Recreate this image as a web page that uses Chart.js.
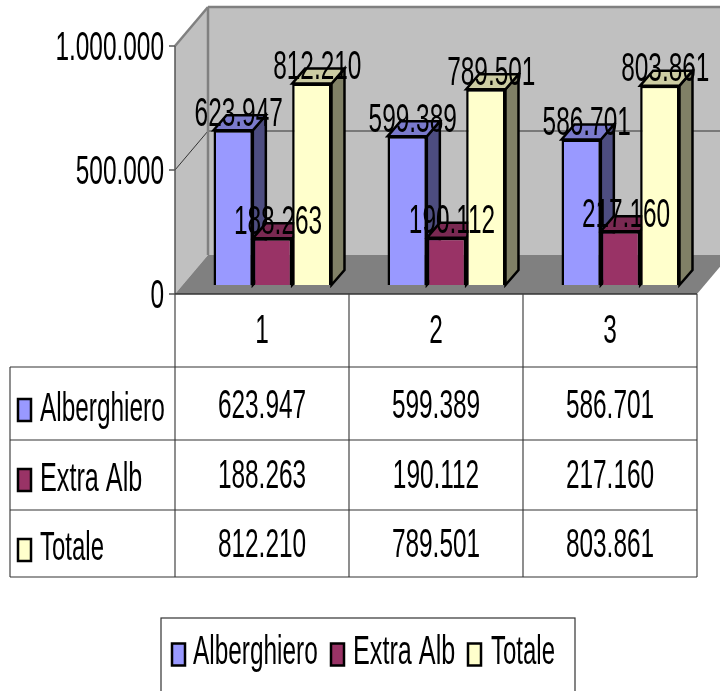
<!DOCTYPE html>
<html>
<head>
<meta charset="utf-8">
<title>Alberghiero / Extra Alb / Totale</title>
<script src="https://cdn.jsdelivr.net/npm/chart.js@4"></script>
<style>
  html, body { margin: 0; padding: 0; background: #fff; overflow: hidden; }
  canvas { display: block; }
</style>
</head>
<body>
<canvas id="grafico" width="720" height="691"></canvas>
<script>
// dati
const categorie = ['1', '2', '3'];
const alberghiero = [623947, 599389, 586701];
const extraAlb = [188263, 190112, 217160];
const totale = [812210, 789501, 803861];
const tickValori = [0, 500000, 1000000];

const nomi = ['Alberghiero', 'Extra Alb', 'Totale'];
const colFronte = ['#9999FF', '#993366', '#FFFFCC'];
const colLato = ['#4D4D80', '#4D1A33', '#808066'];
const colSopra = ['#7A7ACC', '#7A2952', '#CCCCA3'];
const largoNomi = [0.61, 0.63, 0.6];

// profondita' del finto 3D
const PARETE_DX = 33, PARETE_DY = -39;
const BARRA_DX = 13, BARRA_DY = -15;
const SPOST_X = 10.5, SPOST_Y = -9;

function fmt(n) {
    return String(n).replace(/\B(?=(\d{3})+$)/g, '.');
}

// testo stretto come nell'originale, y = centro delle cifre
function testo(ctx, str, x, y, align, largo) {
    ctx.save();
    ctx.translate(x, y + 14);
    ctx.scale(largo || 0.61, 1);
    ctx.font = '40px "Liberation Sans"';
    ctx.fillStyle = '#000';
    ctx.textAlign = align || 'center';
    ctx.textBaseline = 'alphabetic';
    ctx.fillText(str, 0, 0);
    ctx.restore();
}

function poligono(ctx, punti, fill, stroke, lw) {
    ctx.beginPath();
    punti.forEach((p, i) => i ? ctx.lineTo(p[0], p[1]) : ctx.moveTo(p[0], p[1]));
    ctx.closePath();
    if (fill) { ctx.fillStyle = fill; ctx.fill(); }
    if (stroke) { ctx.strokeStyle = stroke; ctx.lineWidth = lw; ctx.stroke(); }
}

function linea(ctx, x1, y1, x2, y2, col, lw) {
    ctx.beginPath();
    ctx.moveTo(x1, y1);
    ctx.lineTo(x2, y2);
    ctx.strokeStyle = col;
    ctx.lineWidth = lw;
    ctx.stroke();
}

function chiave(ctx, x, y, i) {
    ctx.fillStyle = colFronte[i];
    ctx.strokeStyle = '#000';
    ctx.lineWidth = 2.5;
    ctx.fillRect(x, y, 13, 22);
    ctx.strokeRect(x, y, 13, 22);
}

const scena3d = {
    id: 'scena3d',
    // pareti, pavimento, griglia, assi e facce laterali delle barre
    beforeDatasetsDraw(chart) {
        const ctx = chart.ctx, a = chart.chartArea, ys = chart.scales.y;
        const dx = PARETE_DX, dy = PARETE_DY;
        poligono(ctx, [[a.left, a.top], [a.left + dx, a.top + dy], [a.left + dx, a.bottom + dy], [a.left, a.bottom]], '#C0C0C0');
        poligono(ctx, [[a.left + dx, a.top + dy], [a.right + dx, a.top + dy], [a.right + dx, a.bottom + dy], [a.left + dx, a.bottom + dy]], '#C0C0C0');
        poligono(ctx, [[a.left, a.bottom], [a.right, a.bottom], [a.right + dx, a.bottom + dy], [a.left + dx, a.bottom + dy]], '#808080');

        // griglia
        tickValori.forEach(v => {
            if (v === 0) return;
            const py = ys.getPixelForValue(v);
            const col = v === ys.max ? '#808080' : '#333';
            const lw = v === ys.max ? 2.5 : 1;
            linea(ctx, a.left, py, a.left + dx, py + dy, col, lw);
            linea(ctx, a.left + dx, py + dy, a.right + dx, py + dy, col, lw);
        });
        linea(ctx, a.left + dx, a.top + dy, a.left + dx, a.bottom + dy, '#808080', 2.5);

        // asse y
        linea(ctx, a.left, a.top, a.left, a.bottom, '#555', 1.5);
        tickValori.forEach(v => {
            const py = ys.getPixelForValue(v);
            linea(ctx, a.left - 6, py, a.left, py, '#555', 1.5);
            testo(ctx, fmt(v), a.left - 11, py - 0.5, 'right');
        });
        linea(ctx, a.left, a.bottom, a.right, a.bottom, '#333', 1.5);

        // facce 3D, da sinistra a destra: i frontali le coprono dopo
        ctx.save();
        ctx.translate(SPOST_X, SPOST_Y);
        chart.data.datasets.forEach((ds, i) => {
            chart.getDatasetMeta(i).data.forEach(el => {
                const p = el.getProps(['x', 'y', 'base', 'width'], true);
                const l = p.x - p.width / 2, r = p.x + p.width / 2;
                poligono(ctx, [[r, p.base], [r + BARRA_DX, p.base + BARRA_DY], [r + BARRA_DX, p.y + BARRA_DY], [r, p.y]], colLato[i], '#000', 2.5);
                poligono(ctx, [[l, p.y], [l + BARRA_DX, p.y + BARRA_DY], [r + BARRA_DX, p.y + BARRA_DY], [r, p.y]], colSopra[i], '#000', 2.5);
            });
        });
        ctx.restore();
    },
    beforeDatasetDraw(chart) {
        chart.ctx.save();
        chart.ctx.translate(SPOST_X, SPOST_Y);
    },
    afterDatasetDraw(chart) {
        chart.ctx.restore();
    },
    // etichette, tabella dati e legenda
    afterDraw(chart) {
        const ctx = chart.ctx, a = chart.chartArea, xs = chart.scales.x;

        chart.data.datasets.forEach((ds, i) => {
            chart.getDatasetMeta(i).data.forEach((el, j) => {
                testo(ctx, fmt(ds.data[j]), el.x + SPOST_X + 5.5, el.y + SPOST_Y - 18.5);
            });
        });

        // tabella
        const sinistra = 10, righe = [367, 440, 510, 577], centri = [404, 474, 543], chiavi = [399, 469, 539];
        const passo = xs.getPixelForTick(1) - xs.getPixelForTick(0);
        const colonne = [a.left, a.left + passo, a.left + 2 * passo, a.right];
        colonne.forEach(cx => linea(ctx, cx, a.bottom, cx, righe[3], '#444', 1.2));
        linea(ctx, sinistra, righe[0], sinistra, righe[3], '#444', 1.2);
        righe.forEach(ry => linea(ctx, sinistra, ry, a.right, ry, '#333', 1.2));

        categorie.forEach((c, j) => {
            const cx = xs.getPixelForTick(j);
            testo(ctx, c, cx, 329);
            chart.data.datasets.forEach((ds, i) => testo(ctx, fmt(ds.data[j]), cx, centri[i]));
        });
        nomi.forEach((nome, i) => {
            chiave(ctx, 18, chiavi[i], i);
            testo(ctx, nome, 40, centri[i] + 2.5, 'left', largoNomi[i]);
        });

        // legenda, tagliata dal bordo inferiore
        ctx.strokeStyle = '#333';
        ctx.lineWidth = 1.2;
        ctx.strokeRect(161, 618, 414, 80);
        [172, 331, 468].forEach((kx, i) => chiave(ctx, kx, 643.5, i));
        [193, 353, 491].forEach((tx, i) => testo(ctx, nomi[i], tx, 650, 'left', largoNomi[i]));
    }
};

new Chart(document.getElementById('grafico'), {
    type: 'bar',
    data: {
        labels: categorie,
        datasets: [alberghiero, extraAlb, totale].map((valori, i) => ({
            label: nomi[i],
            data: valori,
            backgroundColor: colFronte[i],
            borderColor: '#000',
            borderWidth: 2.5,
            categoryPercentage: 0.678,
            barPercentage: 1,
            clip: false
        }))
    },
    options: {
        responsive: false,
        animation: false,
        events: [],
        layout: { padding: { left: 175, right: 23, top: 46, bottom: 397 } },
        plugins: { legend: { display: false }, tooltip: { enabled: false } },
        scales: {
            x: { display: false },
            y: { display: false, min: 0, max: 1000000, ticks: { stepSize: 500000 } }
        }
    },
    plugins: [scena3d]
});
</script>
</body>
</html>
